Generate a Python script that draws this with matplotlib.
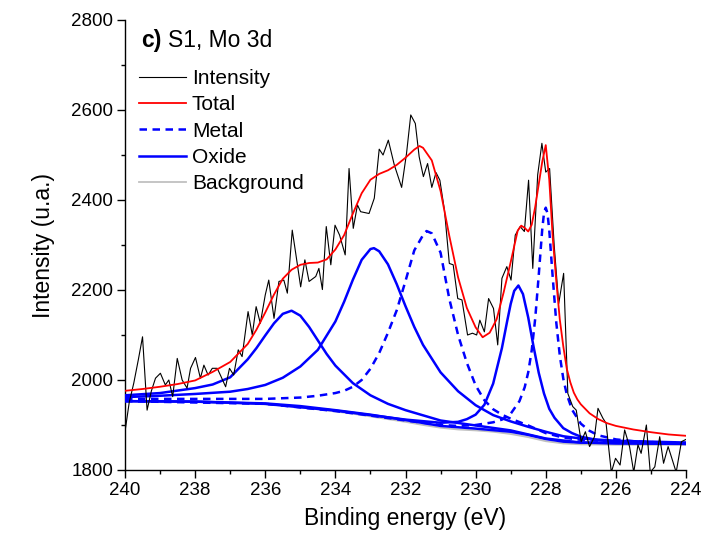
import matplotlib
matplotlib.use("Agg")
import matplotlib.pyplot as plt
from matplotlib.ticker import MultipleLocator

plt.rcParams['font.family'] = ['Liberation Sans', 'DejaVu Sans']

# measured spectrum (binding energy, counts)
ints_x = [240.0, 239.88, 239.75, 239.62, 239.5, 239.37, 239.25, 239.13, 238.99, 238.85,
          238.75, 238.64, 238.51, 238.37, 238.23, 238.13, 237.99, 237.85, 237.75, 237.63,
          237.51, 237.37, 237.28, 237.13, 237.02, 236.9, 236.77, 236.66, 236.49, 236.37,
          236.26, 236.14, 236.0, 235.9, 235.75, 235.61, 235.47, 235.37, 235.23, 235.13,
          234.99, 234.87, 234.75, 234.56, 234.47, 234.37, 234.26, 234.13, 234.01, 233.88,
          233.72, 233.61, 233.49, 233.37, 233.28, 233.04, 232.89, 232.75, 232.64, 232.49,
          232.32, 232.11, 231.97, 231.85, 231.72, 231.61, 231.49, 231.37, 231.25, 231.13,
          231.02, 230.89, 230.75, 230.64, 230.51, 230.39, 230.23, 230.09, 229.97, 229.88,
          229.75, 229.63, 229.49, 229.37, 229.25, 229.11, 228.99, 228.87, 228.73, 228.61,
          228.49, 228.37, 228.23, 228.11, 228.0, 227.89, 227.76, 227.63, 227.49, 227.37,
          227.23, 227.13, 226.99, 226.87, 226.75, 226.61, 226.51, 226.37, 226.28, 226.13,
          226.01, 225.88, 225.75, 225.61, 225.49, 225.37, 225.28, 225.13, 225.02, 224.89,
          224.75, 224.64, 224.51, 224.42, 224.28, 224.13, 224.0]
ints_y = [1885, 1950, 1993, 2045, 2096, 1933, 1975, 2004, 2015, 1989,
          2000, 1963, 2048, 2000, 1982, 2026, 2050, 2004, 2033, 2011,
          2026, 2026, 2011, 1985, 2026, 2011, 2067, 2052, 2152, 2100,
          2163, 2126, 2189, 2222, 2137, 2219, 2222, 2193, 2333, 2281,
          2207, 2267, 2219, 2230, 2248, 2201, 2341, 2256, 2344, 2322,
          2278, 2470, 2337, 2389, 2374, 2370, 2404, 2513, 2500, 2533,
          2478, 2428, 2504, 2589, 2570, 2496, 2452, 2481, 2428, 2461,
          2444, 2378, 2259, 2256, 2181, 2178, 2100, 2104, 2100, 2133,
          2107, 2181, 2159, 2078, 2226, 2252, 2222, 2322, 2341, 2330,
          2444, 2248, 2456, 2526, 2462, 2470, 2300, 2170, 2237, 1970,
          1941, 1933, 1863, 1885, 1852, 1874, 1937, 1915, 1904, 1795,
          1826, 1811, 1889, 1852, 1795, 1856, 1837, 1900, 1795, 1807,
          1874, 1815, 1852, 1830, 1795, 1863, 1868]

# fitted envelope
tot_x = [240, 239.5, 239, 238.5, 238, 237.5, 237, 236.5, 236.25, 236, 235.75, 235.5, 235.25,
         235, 234.75, 234.5, 234.25, 234, 233.75, 233.5, 233.25, 233, 232.75, 232.5, 232.25,
         232, 231.75, 231.6, 231.5, 231.25, 231, 230.75, 230.5, 230.25, 230, 229.8, 229.6,
         229.4, 229.2, 229, 228.8, 228.7, 228.6, 228.5, 228.4, 228.3, 228.2, 228.1, 228.0,
         227.9, 227.8, 227.7, 227.6, 227.5, 227.4, 227.3, 227.2, 227.1, 227, 226.75, 226.5,
         226.25, 226, 225.5, 225, 224.5, 224]
tot_y = [1976, 1980, 1985, 1991, 1999, 2018, 2040, 2080, 2112, 2150, 2190, 2225, 2245,
         2256, 2260, 2261, 2268, 2290, 2322, 2370, 2415, 2445, 2458, 2466, 2478,
         2494, 2512, 2520, 2516, 2488, 2420, 2320, 2228, 2160, 2117, 2095, 2105,
         2135, 2195, 2262, 2332, 2343, 2338, 2330, 2345, 2385, 2435, 2485, 2522,
         2445, 2315, 2220, 2135, 2075, 2025, 1995, 1972, 1957, 1946, 1926, 1913,
         1904, 1898, 1890, 1884, 1879, 1876]

# metal components (Mo 3d3/2 and Mo 3d5/2)
m1_x = [240, 238, 236, 235, 234.5, 234, 233.75, 233.5, 233.25, 233, 232.75, 232.5, 232.25,
        232, 231.75, 231.5, 231.4, 231.25, 231, 230.75, 230.5, 230.25, 230, 229.75, 229.5,
        229.25, 229, 228.5, 228, 227.5, 227, 226, 225, 224]
m1_y = [1958, 1958, 1958, 1961, 1965, 1971, 1976, 1985, 2000, 2025, 2060, 2105, 2155,
        2220, 2288, 2322, 2331, 2326, 2283, 2180, 2100, 2038, 1988, 1955, 1935,
        1923, 1914, 1899, 1882, 1872, 1867, 1863, 1861, 1860]
m2_x = [240, 236, 234, 233, 232, 231, 230.5, 230, 229.5, 229.25, 229, 228.75, 228.6, 228.5,
        228.4, 228.3, 228.2, 228.1, 228.05, 228.0, 227.95, 227.9, 227.8, 227.7, 227.6, 227.5,
        227.4, 227.25, 227, 226.75, 226.5, 226, 225.5, 225, 224]
m2_y = [1953, 1947, 1931, 1921, 1910, 1900, 1898, 1900, 1906, 1912, 1925, 1953, 1984, 2017,
        2066, 2137, 2233, 2335, 2371, 2383, 2370, 2333, 2227, 2128, 2055, 2003,
        1968, 1934, 1903, 1887, 1877, 1868, 1864, 1862, 1859]

# oxide components
oxA_x = [240, 239, 238, 237.5, 237, 236.5, 236.25, 236, 235.75, 235.5, 235.25, 235, 234.75,
         234.5, 234.25, 234, 233.5, 233, 232.5, 232, 231, 230, 229, 228, 227, 226, 224]
oxA_y = [1966, 1971, 1982, 1990, 2006, 2046, 2071, 2099, 2126, 2147, 2154, 2143, 2118,
         2088, 2058, 2032, 1993, 1966, 1947, 1933, 1910, 1899, 1888, 1870, 1861, 1859, 1858]
oxB_x = [240, 239, 238, 237, 236.5, 236, 235.5, 235, 234.5, 234, 233.75, 233.5, 233.25, 233,
         232.9, 232.75, 232.5, 232.25, 232, 231.75, 231.5, 231, 230.5, 230, 229.5, 229,
         228.5, 228, 227.5, 227, 226, 225, 224]
oxB_y = [1962, 1965, 1969, 1974, 1980, 1989, 2005, 2030, 2067, 2130, 2174, 2223, 2267, 2291,
         2293, 2286, 2257, 2213, 2164, 2118, 2078, 2017, 1975, 1944, 1922, 1908,
         1896, 1885, 1875, 1870, 1865, 1863, 1861]
oxC_x = [240, 238, 236, 234, 233, 232, 231, 230.5, 230.25, 230, 229.75, 229.5, 229.25, 229.1,
         229, 228.9, 228.78, 228.65, 228.5, 228.35, 228.2, 228.05, 227.9, 227.75, 227.5,
         227.25, 227, 226.5, 226, 225, 224]
oxC_y = [1953, 1952, 1947, 1932, 1922, 1912, 1905, 1907, 1913, 1923, 1945, 1992, 2071, 2131,
         2169, 2198, 2210, 2191, 2139, 2075, 2016, 1970, 1936, 1916, 1893,
         1882, 1874, 1866, 1863, 1860, 1858]
oxD_x = [240, 238, 236, 235, 234, 233, 232, 231, 230, 229, 228.5, 228, 227.5, 227, 226, 224]
oxD_y = [1953, 1952, 1948, 1942, 1933, 1923, 1911, 1898, 1892, 1885, 1878, 1869, 1863, 1861,
         1860, 1859]

# Shirley background
bg_x = [240, 239, 238, 237, 236, 235.5, 235, 234.5, 234, 233.5, 233, 232.5, 232, 231.5, 231,
        230.5, 230, 229.5, 229, 228.5, 228, 227.5, 227, 226, 225, 224]
bg_y = [1953, 1952, 1951, 1949, 1946, 1943, 1939, 1935, 1930, 1925, 1919, 1913, 1907, 1900,
        1894, 1890, 1888, 1885, 1880, 1873, 1864, 1859, 1857, 1856, 1856, 1856]

fig = plt.figure(figsize=(7.02, 5.42), dpi=100)
ax = fig.add_axes([125 / 702, 72 / 542, 561 / 702, 450 / 542])

blue = '#0000ff'
dash = (0, (3.0, 2.2))
lw_blue = 1.8

ax.plot(bg_x, bg_y, color='#c0c0c0', lw=1.3, zorder=2)
for xs, ys in [(oxD_x, oxD_y), (oxC_x, oxC_y), (oxB_x, oxB_y), (oxA_x, oxA_y)]:
    ax.plot(xs, ys, color=blue, lw=lw_blue, zorder=3)
for xs, ys in [(m1_x, m1_y), (m2_x, m2_y)]:
    ax.plot(xs, ys, color=blue, lw=lw_blue, linestyle=dash, zorder=3)
ax.plot(ints_x, ints_y, color='black', lw=0.8, zorder=4)
ax.plot(tot_x, tot_y, color='#ff0000', lw=1.3, zorder=5)

# legend proxies
h_int, = ax.plot([], [], color='black', lw=0.8, label='Intensity')
h_tot, = ax.plot([], [], color='#ff0000', lw=1.3, label='Total')
h_met, = ax.plot([], [], color=blue, lw=lw_blue, linestyle=dash, label='Metal')
h_ox, = ax.plot([], [], color=blue, lw=lw_blue, label='Oxide')
h_bg, = ax.plot([], [], color='#c0c0c0', lw=1.3, label='Background')
ax.legend(handles=[h_int, h_tot, h_met, h_ox, h_bg], loc='upper left',
          bbox_to_anchor=(-0.005, 0.928), frameon=False, fontsize=15,
          handlelength=2.25, handletextpad=0.3, labelspacing=0.35, borderaxespad=0.4)

ax.text(0.028, 0.955, 'c)', transform=ax.transAxes, fontsize=16.5, fontweight='bold',
        ha='left', va='center')
ax.text(0.077, 0.955, 'S1, Mo 3d', transform=ax.transAxes, fontsize=16.5,
        ha='left', va='center')

ax.set_xlim(240, 224)
ax.set_ylim(1800, 2800)
ax.xaxis.set_major_locator(MultipleLocator(2))
ax.xaxis.set_minor_locator(MultipleLocator(1))
ax.yaxis.set_major_locator(MultipleLocator(200))
ax.yaxis.set_minor_locator(MultipleLocator(100))
ax.tick_params(which='both', direction='out', width=1.0, labelsize=13.5, pad=3)
ax.tick_params(which='major', length=5.5)
ax.tick_params(which='minor', length=3)
for s in ['top', 'right']:
    ax.spines[s].set_visible(False)
for s in ['left', 'bottom']:
    ax.spines[s].set_linewidth(1.0)

ax.set_xlabel('Binding energy (eV)', fontsize=16.5, labelpad=6)
ax.set_ylabel('Intensity (u.a.)', fontsize=16.5, labelpad=12)

fig.savefig('out.png', dpi=100)
